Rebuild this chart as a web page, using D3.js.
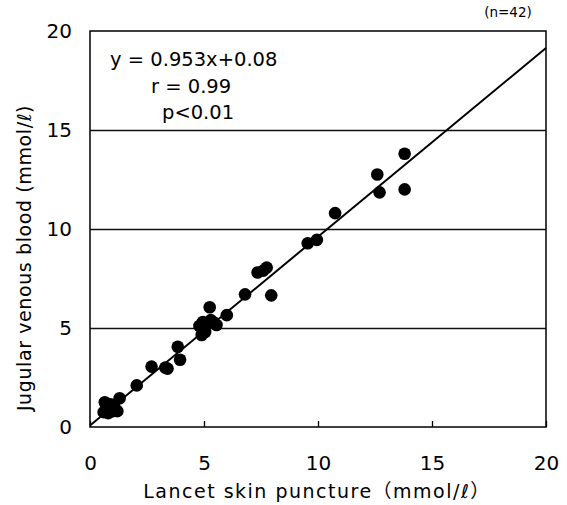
<!DOCTYPE html>
<html>
<head>
<meta charset="utf-8">
<script src="https://cdn.jsdelivr.net/npm/d3@7"></script>
<style>
  body { margin: 0; background: #fff; }
  svg text { font-family: "DejaVu Sans", "Noto Sans CJK JP", sans-serif; fill: #000; }
</style>
</head>
<body>
<svg id="chart"></svg>
<script>
// lancet skin puncture (x) vs jugular venous blood (y), mmol/l
var skinX = [13.8, 12.6, 12.7, 13.8, 10.75, 9.95, 9.55, 7.35, 7.75, 7.95,
  6.8, 5.25, 6.0, 4.95, 5.4, 5.55, 4.9, 5.05, 4.9, 3.85,
  3.95, 2.7, 3.4, 2.05, 1.3, 0.65, 0.6, 0.7, 0.85, 1.0,
  1.1, 1.2, 0.9, 0.75, 1.05, 0.8, 5.1, 5.0, 5.3, 4.8,
  7.6, 3.3];
var venousY = [13.8, 12.75, 11.85, 12.0, 10.8, 9.45, 9.28, 7.8, 8.05, 6.65,
  6.7, 6.05, 5.65, 5.3, 5.3, 5.15, 5.05, 4.8, 4.65, 4.05,
  3.4, 3.05, 2.95, 2.1, 1.45, 1.25, 0.75, 0.85, 1.0, 0.8,
  0.9, 0.8, 1.15, 1.05, 1.1, 0.7, 5.2, 4.9, 5.4, 5.1,
  7.9, 3.0];
var tickVals = [0, 5, 10, 15, 20];
var slope = 0.953, intercept = 0.08;
var statLines = ["y = 0.953x+0.08", "r = 0.99", "p<0.01"];

var W = 567, H = 505;
var svg = d3.select("#chart").attr("width", W).attr("height", H);

var x = d3.scaleLinear().domain([0, 20]).range([90, 546]);
var y = d3.scaleLinear().domain([0, 20]).range([427, 31]);

// gridlines
svg.append("g").selectAll("line")
  .data([5, 10, 15])
  .enter().append("line")
  .attr("x1", x(0)).attr("x2", x(20))
  .attr("y1", function(d) { return Math.round(y(d)) + 0.5; })
  .attr("y2", function(d) { return Math.round(y(d)) + 0.5; })
  .attr("stroke", "#111").attr("stroke-width", 1.3);

// frame
svg.append("rect")
  .attr("x", x(0)).attr("y", y(20))
  .attr("width", x(20) - x(0)).attr("height", y(0) - y(20))
  .attr("fill", "none").attr("stroke", "#000").attr("stroke-width", 1.5);

// x axis
var xAxis = d3.axisBottom(x).tickValues(tickVals).tickSizeInner(-6).tickSizeOuter(0).tickPadding(29);
var gx = svg.append("g").attr("transform", "translate(0," + y(0) + ")").call(xAxis);
gx.select(".domain").remove();
gx.selectAll("line").attr("stroke", "#000").attr("stroke-width", 1.3);
gx.selectAll("text").style("font-size", "20px");

var yAxis = d3.axisLeft(y).tickValues(tickVals).tickSize(0).tickPadding(18);
var gy = svg.append("g").attr("transform", "translate(" + x(0) + ",0)").call(yAxis);
gy.select(".domain").remove();
gy.selectAll("text").style("font-size", "20px");

// regression line
svg.append("line")
  .attr("x1", x(0)).attr("y1", y(intercept))
  .attr("x2", x(20)).attr("y2", y(slope * 20 + intercept))
  .attr("stroke", "#000").attr("stroke-width", 2);

// points
svg.append("g").selectAll("circle")
  .data(skinX)
  .enter().append("circle")
  .attr("cx", function(d) { return x(d); })
  .attr("cy", function(d, i) { return y(venousY[i]); })
  .attr("r", 6.3)
  .attr("fill", "#000");

// stats
var statPos = [[110, 66], [151, 93], [162, 119]];
svg.append("g").selectAll("text")
  .data(statLines)
  .enter().append("text")
  .attr("x", function(d, i) { return statPos[i][0]; })
  .attr("y", function(d, i) { return statPos[i][1]; })
  .style("font-size", "19.5px")
  .text(function(d) { return d; });

svg.append("text")
  .attr("x", 508).attr("y", 17)
  .attr("text-anchor", "middle")
  .style("font-size", "13.5px")
  .text("(n=42)");

// axis labels
svg.append("text")
  .attr("x", 317).attr("y", 498)
  .attr("text-anchor", "middle")
  .style("font-size", "19px")
  .style("letter-spacing", "1.5px")
  .text("Lancet skin puncture（mmol/ℓ）");

svg.append("text")
  .attr("transform", "translate(31,258) rotate(-90)")
  .attr("text-anchor", "middle")
  .style("font-size", "19px")
  .style("letter-spacing", "0.6px")
  .text("Jugular venous blood (mmol/ℓ)");
</script>
</body>
</html>
